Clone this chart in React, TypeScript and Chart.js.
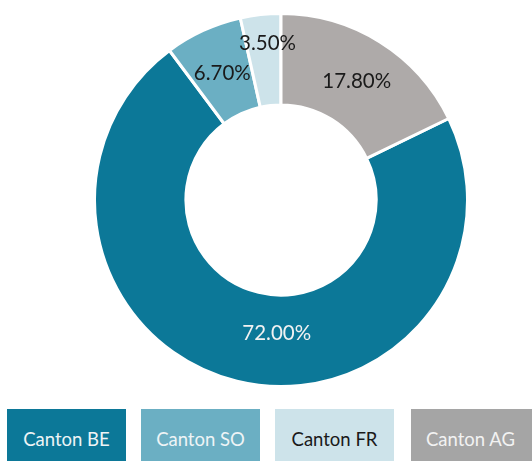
import React, { useEffect, useRef } from "react";
import { Chart, registerables } from "chart.js";

Chart.register(...registerables);

const categories = ["Canton BE", "Canton SO", "Canton FR", "Canton AG"];
const shares = [72.0, 6.7, 3.5, 17.8];
const sliceColors = ["#0C7898", "#6BAFC3", "#CDE3EA", "#AEAAA9"];
const legendColors = ["#0C7898", "#6BAFC3", "#CDE3EA", "#A5A5A5"];
const labelColors = ["#F2F2F2", "#1A1A1A", "#1A1A1A", "#1A1A1A"];
const legendTextColors = ["#EEF4F6", "#EEF4F6", "#1A1A1A", "#F2F2F2"];
const labelShift = [
  { dx: 29, dy: -3 },
  { dx: 0, dy: 1 },
  { dx: 2, dy: -17 },
  { dx: 1, dy: 1 },
];
const legendLeft = [7, 141, 275, 411];
const legendWidth = [119, 119, 119, 125];

const FONT = "Lato, 'Open Sans', sans-serif";

const sliceLabels = {
  id: "sliceLabels",
  afterDatasetsDraw(chart: any) {
    const ctx = chart.ctx;
    const meta = chart.getDatasetMeta(0);
    ctx.save();
    ctx.font = `20.5px ${FONT}`;
    ctx.textAlign = "center";
    ctx.textBaseline = "middle";
    meta.data.forEach((arc: any, i: number) => {
      const p = arc.getProps(["x", "y", "startAngle", "endAngle", "innerRadius", "outerRadius"], true);
      const a = (p.startAngle + p.endAngle) / 2;
      const r = (p.innerRadius + p.outerRadius) / 2;
      const x = p.x + Math.cos(a) * r + labelShift[i].dx;
      const y = p.y + Math.sin(a) * r + labelShift[i].dy;
      ctx.fillStyle = labelColors[i];
      ctx.fillText(shares[i].toFixed(2) + "%", x, y);
    });
    ctx.restore();
  },
};

export default function App() {
  const ref = useRef<HTMLCanvasElement | null>(null);

  useEffect(() => {
    if (!ref.current) return;
    const lastShare = shares[shares.length - 1];
    const total = shares.reduce((s, v) => s + v, 0);
    const chart = new Chart(ref.current, {
      type: "doughnut",
      data: {
        labels: categories,
        datasets: [
          {
            data: shares,
            backgroundColor: sliceColors,
            borderColor: "#FFFFFF",
            borderWidth: 3,
          },
        ],
      },
      options: {
        animation: false,
        responsive: true,
        maintainAspectRatio: false,
        cutout: "51%",
        rotation: (360 * lastShare) / total,
        layout: { padding: 0 },
        plugins: {
          legend: { display: false },
          tooltip: { enabled: false },
        },
        events: [],
      },
      plugins: [sliceLabels],
    });
    return () => chart.destroy();
  }, []);

  return (
    <div style={{ position: "fixed", inset: 0, overflow: "hidden", background: "#fff" }}>
      <div style={{ position: "absolute", left: 93, top: 12, width: 376, height: 376 }}>
        <canvas ref={ref} />
      </div>
      {categories.map((c, i) => (
        <div
          key={c}
          style={{
            position: "absolute",
            left: legendLeft[i],
            top: 409,
            width: legendWidth[i],
            height: 60,
            background: legendColors[i],
            color: legendTextColors[i],
            display: "flex",
            alignItems: "center",
            justifyContent: "center",
            fontFamily: FONT,
            fontSize: 18.5,
            paddingRight: i === 3 ? 6 : 0,
            boxSizing: "border-box",
          }}
        >
          {c}
        </div>
      ))}
    </div>
  );
}
